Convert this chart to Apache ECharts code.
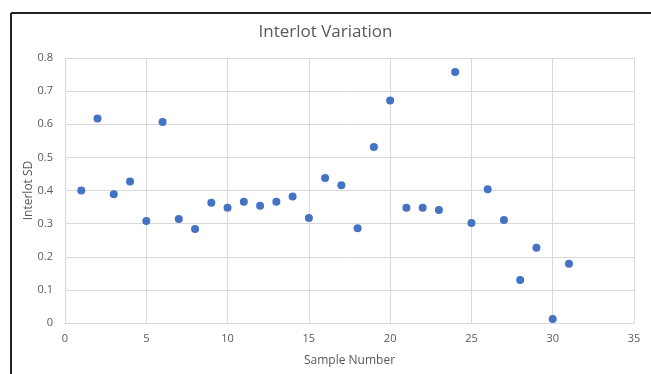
<!DOCTYPE html>
<html lang="en">
<head>
    <meta charset="UTF-8">
    <title>Interlot Variation</title>
    <style>
        body, html {
            margin: 0;
            padding: 0;
            width: 100%;
            height: 100%;
            background: #fff;
        }

        #main {
            width: 651px;
            height: 374px;
        }
    </style>
</head>
<body>
<div id="main"></div>
<script src="https://cdn.jsdelivr.net/npm/echarts@6/dist/echarts.min.js"></script>
<script>

    // 样本编号与对应的 SD 值
    let samples = [1, 2, 3, 4, 5, 6, 7, 8, 9, 10, 11, 12, 13, 14, 15, 16,
        17, 18, 19, 20, 21, 22, 23, 24, 25, 26, 27, 28, 29, 30, 31];
    let sdValues = [0.400, 0.617, 0.389, 0.427, 0.308, 0.607, 0.314, 0.284, 0.363, 0.348, 0.366,
        0.354, 0.366, 0.382, 0.317, 0.438, 0.416, 0.286, 0.531, 0.672, 0.348, 0.348,
        0.341, 0.758, 0.302, 0.404, 0.311, 0.130, 0.227, 0.012, 0.179];

    let points = [];
    for (let i = 0; i < samples.length; i++) {
        points.push([samples[i], sdValues[i]]);
    }

    let labelColor = '#595959';
    let gridColor = '#d9d9d9';

    let myChart = echarts.init(document.getElementById('main'));
    let option = {
        animation: false,
        title: {
            text: 'Interlot Variation',
            left: 'center',
            top: 19,
            textStyle: {
                color: labelColor,
                fontSize: 17,
                fontWeight: 'normal',
                fontFamily: 'Open Sans'
            }
        },
        grid: {
            left: 65,
            right: 17,
            top: 58,
            bottom: 51
        },
        xAxis: {
            type: 'value',
            min: 0,
            max: 35,
            interval: 5,
            name: 'Sample Number',
            nameLocation: 'middle',
            nameGap: 32,
            nameMoveOverlap: false,
            nameTextStyle: {color: labelColor, fontSize: 12, fontFamily: 'Open Sans'},
            axisLine: {show: true, lineStyle: {color: gridColor}},
            axisTick: {show: false},
            axisLabel: {color: labelColor, fontSize: 11, margin: 10, fontFamily: 'Open Sans'},
            splitLine: {show: true, lineStyle: {color: gridColor}}
        },
        yAxis: {
            type: 'value',
            min: 0,
            max: 0.8,
            interval: 0.1,
            name: 'Interlot SD',
            nameLocation: 'middle',
            nameGap: 30,
            nameMoveOverlap: false,
            nameTextStyle: {color: labelColor, fontSize: 12, fontFamily: 'Open Sans'},
            axisLine: {show: false},
            axisTick: {show: false},
            axisLabel: {color: labelColor, fontSize: 11, margin: 12, fontFamily: 'Open Sans'},
            splitLine: {show: true, lineStyle: {color: gridColor}}
        },
        series: [
            {
                type: 'scatter',
                symbolSize: 8,
                itemStyle: {color: '#4472c4', opacity: 1},
                data: points
            }
        ],
        graphic: [
            {
                type: 'line',
                shape: {x1: 11, y1: 13, x2: 651, y2: 13},
                style: {stroke: '#222', lineWidth: 2}
            },
            {
                type: 'line',
                shape: {x1: 11, y1: 13, x2: 11, y2: 374},
                style: {stroke: '#222', lineWidth: 2}
            }
        ]
    };

    myChart.setOption(option);

</script>
</body>
</html>
